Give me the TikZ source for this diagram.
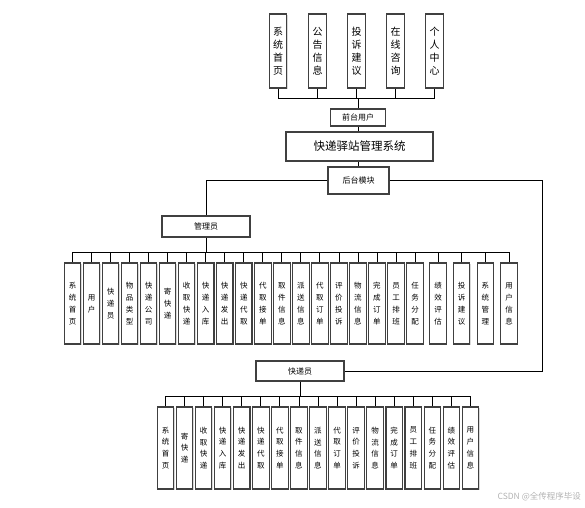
\documentclass[tikz,border=0pt]{standalone}
\usepackage{fontspec}
\newfontfamily\cjk{Noto Sans CJK SC}
\usetikzlibrary{shadows}
\begin{document}
\begin{tikzpicture}[x=1pt,y=-1pt,
  box/.style={draw=black!75, line width=1.1pt, fill=white, inner sep=0pt, align=center,
    drop shadow={shadow xshift=0.8pt, shadow yshift=-0.8pt, opacity=0.3}},
  tbox/.style={box, minimum width=17.5pt, minimum height=74pt, font=\cjk\fontsize{10}{13}\selectfont},
  abox/.style={box, minimum width=16.5pt, minimum height=81pt, font=\cjk\fontsize{7.5}{12}\selectfont},
  cbox/.style={box, minimum width=16.5pt, minimum height=82pt, font=\cjk\fontsize{7.5}{11.8}\selectfont},
  hbox/.style={box, font=\cjk\fontsize{8}{10}\selectfont},
  conn/.style={draw=black, line width=0.8pt}]
\useasboundingbox (0,0) rectangle (585,507);

% top row
\foreach \xx/\lab [count=\i] in {278/{系\\统\\首\\页}, 317.5/{公\\告\\信\\息}, 356.5/{投\\诉\\建\\议}, 395.5/{在\\线\\咨\\询}, 434.5/{个\\人\\中\\心}}
  \node[tbox] (t\i) at (\xx,51) {\lab};
\coordinate (tbus) at (358,98);
\draw[conn] (t1.south) -- ++(0,10) -| (t5.south);
\foreach \i in {2,3,4} \draw[conn] (t\i.south) -- ++(0,10);

\node[hbox, minimum width=55pt, minimum height=17pt] (front) at (358,117.5) {前台用户};
\node[box, minimum width=147pt, minimum height=29pt, font=\cjk\fontsize{11.5}{13}\selectfont] (sys) at (359.5,146.5) {快递驿站管理系统};
\node[hbox, minimum width=61pt, minimum height=27pt] (back) at (358.5,180.5) {后台模块};
\draw[conn] (tbus) -- (front.north);
\draw[conn] (front.south) -- (front.south |- sys.north);
\draw[conn] (back.north) -- (back.north |- sys.south);

\node[hbox, minimum width=88pt, minimum height=21pt] (admin) at (206,226.5) {管理员};
\node[hbox, minimum width=88pt, minimum height=20pt] (courier) at (300,371) {快递员};
\draw[conn] (back.west) -| (admin.north);
\draw[conn] (back.east) -- (542,180.5) |- (courier.east);

% admin row
\foreach \lab [count=\i] in {{系\\统\\首\\页}, {用\\户}, {快\\递\\员}, {物\\品\\类\\型}, {快\\递\\公\\司}, {寄\\快\\递}, {收\\取\\快\\递}, {快\\递\\入\\库}, {快\\递\\发\\出}, {快\\递\\代\\取}, {代\\取\\接\\单}, {取\\件\\信\\息}, {派\\送\\信\\息}, {代\\取\\订\\单}, {评\\价\\投\\诉}, {物\\流\\信\\息}, {完\\成\\订\\单}, {员\\工\\排\\班}, {任\\务\\分\\配}, {绩\\效\\评\\估}, {投\\诉\\建\\议}, {系\\统\\管\\理}, {用\\户\\信\\息}} {
  \pgfmathsetmacro\xx{\i<20 ? 72.5+(\i-1)*19.03 : 438+(\i-20)*23.67}
  \node[abox] (a\i) at (\xx,303.5) {\lab};
}
\draw[conn] (admin.south) -- (206,253);
\draw[conn] (a1.north) -- ++(0,-10) -| (a23.north);
\foreach \i in {2,...,22} \draw[conn] (a\i.north) -- ++(0,-10);

% courier row
\foreach \lab [count=\i] in {{系\\统\\首\\页}, {寄\\快\\递}, {收\\取\\快\\递}, {快\\递\\入\\库}, {快\\递\\发\\出}, {快\\递\\代\\取}, {代\\取\\接\\单}, {取\\件\\信\\息}, {派\\送\\信\\息}, {代\\取\\订\\单}, {评\\价\\投\\诉}, {物\\流\\信\\息}, {完\\成\\订\\单}, {员\\工\\排\\班}, {任\\务\\分\\配}, {绩\\效\\评\\估}, {用\\户\\信\\息}} {
  \pgfmathsetmacro\xx{165.5+(\i-1)*19.06}
  \node[cbox] (c\i) at (\xx,448) {\lab};
}
\draw[conn] (courier.south) -- (300,397);
\draw[conn] (c1.north) -- ++(0,-10) -| (c17.north);
\foreach \i in {2,...,16} \draw[conn] (c\i.north) -- ++(0,-10);

\node[font=\cjk\fontsize{8.5}{10}\selectfont, text=black!30, anchor=east, inner sep=0pt] (wm) at (581,497) {CSDN @全传程序毕设};
\end{tikzpicture}
\end{document}
